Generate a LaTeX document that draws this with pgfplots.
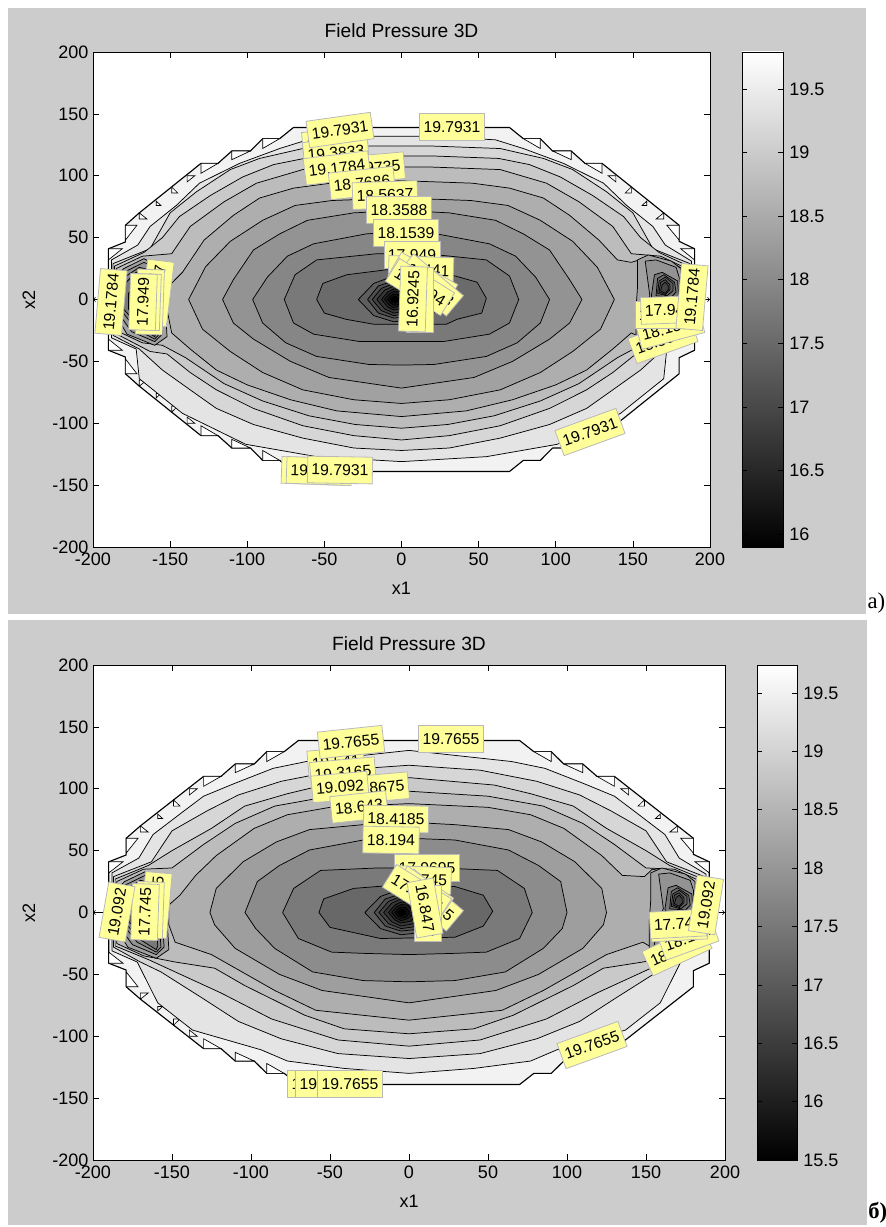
\documentclass[border=0pt]{standalone}
\usepackage{fontspec}
\usepackage{pgfplots}
\pgfplotsset{compat=1.18}
\setmainfont{Liberation Sans}
\newfontfamily\serifx{Liberation Serif}
\newcommand\tickf{\fontsize{13.5}{15}\selectfont}
\definecolor{figgray}{RGB}{204,204,204}
\definecolor{labfill}{RGB}{255,255,153}
\definecolor{labedge}{RGB}{185,185,185}
\tikzset{lab/.style={fill=labfill,draw=labedge,line width=.6pt,inner xsep=3pt,inner ysep=0pt,minimum height=20pt,font=\fontsize{11.8}{13}\selectfont}}
\newcommand\ring[2]{\addplot[draw=black,line width=.55pt,line join=round,fill={rgb,255:red,#1;green,#1;blue,#1}] coordinates {#2} -- cycle;}
\newcommand\tri[1]{\addplot[draw=black,line width=.5pt,fill=white] coordinates {#1} -- cycle;}
\newcommand\la[4]{\node[lab,rotate=#3] at (axis cs:{(#1-401.5)/1.5425},{(299.5-#2)/1.2375}) {#4};}
\newcommand\lb[4]{\node[lab,rotate=#3] at (axis cs:{(#1-409)/1.58},{(912.5-#2)/1.2375}) {#4};}
\newcommand\Bound{%
\addplot[draw=black,line width=.85pt,line join=round,fill={rgb,255:red,242;green,242;blue,242}] coordinates {(190,41)(180,47)(180,60)(170,70)(130,110)(119,110)(110,120)(98,120)(90,130)(79,130)(70,139)(-70,139)(-79,130)(-90,130)(-98,120)(-110,120)(-119,110)(-130,110)(-170,70)(-179,60)(-179,46.5)(-190,41)(-190,-41)(-179,-46.5)(-179,-60)(-170,-70)(-130,-110)(-119,-110)(-110,-120)(-98,-120)(-90,-130)(-79,-130)(-70,-139)(70,-139)(79,-130)(90,-130)(98,-120)(110,-120)(119,-110)(130,-110)(170,-70)(180,-60)(180,-47)(190,-41)} -- cycle;
\tri{(-130,110)(-119,110)(-130,102)}\tri{(-110,120)(-98,120)(-110,113)}\tri{(-90,130)(-79,130)(-90,122)}\tri{(-139,100)(-134,100)(-139,95)}\tri{(-149,91)(-145,86)(-149,86)}\tri{(-159,79.5)(-156,76)(-159,76)}\tri{(-170,70)(-165,65)(-170,65)}\tri{(-179,60)(-171.5,60)(-179,48)}\tri{(-190,41)(-181,41)(-190,32)}%
\tri{(130,110)(119,110)(130,102)}\tri{(110,120)(98,120)(110,113)}\tri{(90,130)(79,130)(90,122)}\tri{(139,100)(134,100)(139,95)}\tri{(149,91)(145,86)(149,86)}\tri{(159,79.5)(156,76)(159,76)}\tri{(170,70)(165,65)(170,65)}\tri{(180,60)(172,60)(180,48)}\tri{(190,41)(181,41)(190,32)}%
\tri{(-130,-110)(-119,-110)(-130,-102)}\tri{(-110,-120)(-98,-120)(-110,-113)}\tri{(-90,-130)(-79,-130)(-90,-122)}\tri{(-139,-100)(-134,-100)(-139,-95)}\tri{(-149,-91)(-145,-86)(-149,-86)}\tri{(-159,-79.5)(-156,-76)(-159,-76)}\tri{(-170,-70)(-165,-65)(-170,-65)}\tri{(-179,-60)(-171.5,-60)(-179,-48)}\tri{(-190,-41)(-181,-41)(-190,-32)}%
}
\newcommand\Pits{%
\ring{161}{(153,32)(160,36)(175,31)(181,25)(181,-5)(178,-25)(160,-36)(152,-30)(152,-8)(153,10)}
\ring{147}{(158,31)(165,32)(178,26)(180,18)(180,-20)(175,-27)(160,-33)(155,-28)(158,-5)(161,3)}
\ring{121}{(162,3)(164,20)(169,22)(179,15)(179.5,5)(178,-15)(165,-15)}
\ring{107}{(165,3)(166,17)(170,20)(177,14)(178,6)(175,2)}
\ring{94}{(166,5)(167,15)(171,18)(176,13)(176,7)(172,3)}
\ring{80}{(167,6)(168,14)(171,16)(174,12)(174,8)(171,4)}
\ring{67}{(168,7)(169,12)(171,14)(173,11)(173,8)(171,5)}
\ring{161}{(-156,26)(-167,33)(-180,25)(-184,20)(-184,-15)(-178,-28)(-160,-37)(-152,-30)(-153,-8)}
\ring{147}{(-158,25)(-167,30)(-180,22)(-183,15)(-183,-12)(-175,-26)(-160,-34)(-155,-28)(-156,-8)}
\ring{134}{(-160,23)(-170,26)(-181,17)(-181,-10)(-172,-24)(-160,-32)(-157,-28)(-158,-8)}
\ring{121}{(-162,20)(-172,22)(-180,12)(-180,-8)(-170,-22)(-160,-30)(-159,-27)(-160,-8)}
\ring{94}{(-165,10)(-172,12)(-177,5)(-177,-8)(-170,-16)(-163,-22)(-162,-8)}
\ring{67}{(-168,2)(-172,4)(-174,-2)(-173,-8)(-169,-12)(-166,-8)}
}
\newcommand\Tight{%
\ring{94}{(-28,0)(-18,13)(-5,19)(15,17)(28,6)(28,-6)(15,-15)(-5,-18)(-18,-13)}
\ring{80}{(-22,0)(-15,11)(-5,15)(10,14)(20,5)(20,-5)(10,-13)(-5,-15)(-15,-11)}
\ring{67}{(-19,0)(-13,9)(-5,13)(6,12)(13,4)(13,-4)(6,-11)(-5,-13)(-13,-9)}
\ring{54}{(-16,0)(-11,7.5)(-5,11)(3,10)(8,3)(8,-3)(3,-9)(-5,-11)(-11,-7.5)}
\ring{40}{(-13,0)(-9,6)(-5,8.5)(1,8)(5,2)(5,-2)(1,-7)(-5,-8.5)(-9,-6)}
\ring{27}{(-11,0)(-8,4.5)(-5,6.5)(-1,6)(2,2)(2,-2)(-1,-5)(-5,-6.5)(-8,-4.5)}
\ring{13}{(-9,0)(-7,3)(-5,4.5)(-2,4)(0,1)(0,-1)(-2,-4)(-5,-4.5)(-7,-3)}
\ring{0}{(-7,0)(-6,2)(-4,2.5)(-2,1)(-2,-1)(-4,-2.5)(-6,-2)}
}
\newcommand\Arrows{%
\addplot[->,black,line width=.5pt] coordinates {(-192,0)(-200,0)};
\addplot[->,black,line width=.5pt] coordinates {(192,0)(200,0)};
}
\pgfplotsset{
 mainax/.style={scale only axis,height=371.25pt,anchor=south west,xmin=-200,xmax=200,ymin=-200,ymax=200,
  xtick={-200,-150,-100,-50,0,50,100,150,200},ytick={-200,-150,-100,-50,0,50,100,150,200},
  xticklabels={-200,-150,-100,-50,0,50,100,150,200},yticklabels={-200,-150,-100,-50,0,50,100,150,200},
  tick align=inside,major tick length=4.5pt,tick style={black,line width=.5pt},axis line style={black,line width=.6pt},
  axis background/.style={fill=white},
  tick label style={font=\tickf},label style={font=\tickf},
  xtick pos=both,ytick pos=both,xticklabel pos=bottom,yticklabel pos=left,
  xticklabel style={yshift=-1pt},yticklabel style={xshift=0pt},
  title style={font=\fontsize{14.4}{16}\selectfont,at={(0.5,1)},anchor=south,yshift=1.5pt},
  xlabel={x1},ylabel={x2},xlabel style={yshift=-5pt},ylabel style={yshift=6pt},
  clip=false,title={Field Pressure 3D}},
 cbar/.style={scale only axis,height=371.25pt,anchor=south west,xmin=0,xmax=1,xtick=\empty,
  tick align=inside,major tick length=3.5pt,tick style={black,line width=.5pt},axis line style={black,line width=.6pt},
  ytick pos=both,yticklabel pos=right,tick label style={font=\tickf},yticklabel style={xshift=1.2pt},axis on top,clip=true}
}
\begin{document}
\begin{tikzpicture}
\path[use as bounding box] (0,0) rectangle (663.75pt,-920.25pt);
\fill[white] (0,0) rectangle (663.75pt,-920.25pt);
\fill[figgray] (6pt,-6pt) rectangle (649.5pt,-460.5pt);
\fill[figgray] (6pt,-465pt) rectangle (650.25pt,-918.75pt);
\node[anchor=west,inner sep=0pt,font=\serifx\fontsize{17}{19}\selectfont] at (650.5pt,-452.5pt) {a)};
\node[anchor=west,inner sep=0pt,font=\serifx\bfseries\fontsize{17}{19}\selectfont] at (651pt,-909.5pt) {б)};
% panel a
\begin{axis}[mainax,at={(69.75pt,-410.25pt)},width=462.75pt]
\Bound
\ring{228}{(188,0)(188,31)(171,44)(163,59)(146,76)(131,94)(105,110)(79,122)(61,129)(20,132)(-20,132)(-61,129)(-79,122)(-105,110)(-131,94)(-146,76)(-163,59)(-171,44)(-188,32)(-188,0)(-188,-31)(-172,-40)(-170,-64)(-142,-92)(-101,-117)(-55,-127)(0,-131)(55,-127)(101,-117)(142,-92)(170,-64)(172,-40)(188,-28)}
\ring{214}{(187,0)(187,29)(163,41)(150,70)(133,87)(111,105)(92,114)(64,122)(20,124)(-20,124)(-64,122)(-92,114)(-111,105)(-133,87)(-150,70)(-163,41)(-187,29)(-187,0)(-187,-29)(-170,-40)(-155,-57)(-137,-73)(-120,-88)(-96,-101)(-64,-112)(-31,-120)(0,-122)(31,-120)(64,-112)(96,-101)(120,-88)(137,-73)(155,-57)(170,-40)(187,-28)}
\ring{201}{(186,0)(186,27)(167,38)(155,50)(144,67)(124,84)(103,99)(83,109)(63,114)(20,116)(-20,116)(-63,114)(-83,109)(-103,99)(-124,84)(-144,67)(-155,50)(-167,38)(-186,27)(-186,0)(-186,-27)(-163,-42)(-152,-44)(-137,-59)(-120,-73)(-96,-88)(-64,-102)(-31,-110)(0,-113.5)(31,-110)(64,-102)(96,-88)(120,-73)(137,-59)(152,-44)(163,-42)(186,-27)}
\ring{188}{(185,0)(185,25)(168,35)(149,37)(137,59)(115,79)(94,94)(64,105)(20,107)(-20,107)(-64,105)(-94,94)(-115,79)(-137,59)(-149,37)(-168,35)(-185,25)(-185,0)(-185,-25)(-168,-35)(-155,-37)(-140,-47)(-115,-68)(-90,-82)(-60,-94)(-30,-101)(0,-104)(30,-101)(60,-94)(90,-82)(115,-68)(140,-47)(155,-37)(168,-35)(185,-25)}
\ring{174}{(182,0)(182,25)(172,32)(159,34)(149,30)(140,32)(128,48)(109,68)(92,82)(70,90)(46,94)(0,96)(-46,94)(-70,90)(-92,82)(-109,68)(-128,48)(-142,22)(-150,12)(-152,-8)(-149,-27)(-137,-40)(-120,-57)(-100,-69)(-72,-81)(-42,-90)(0,-94.6)(42,-90)(72,-81)(100,-69)(120,-57)(137,-40)(149,-27)(159,-33)(172,-32)(182,-25)}
\Pits
\ring{161}{(138,0)(127,26)(111,47)(90,64)(69,76)(45,80)(0,82)(-45,80)(-69,76)(-90,64)(-111,47)(-127,26.5)(-138,0)(-129,-24)(-111,-42)(-90,-59)(-64,-73)(-31,-81)(0,-84)(31,-81)(64,-73)(90,-59)(111,-42)(129,-24)}
\ring{147}{(117,0)(109,16)(96,40)(79,53)(61,64)(31,70)(0,72)(-31,70)(-61,64)(-79,53)(-96,40)(-109,16)(-116,0)(-109,-19)(-96,-32)(-72,-50)(-47,-63)(0,-71.6)(47,-63)(72,-50)(96,-32)(109,-19)}
\ring{134}{(96,0)(87,18)(74,35)(57,45)(23,53)(0,55)(-23,53)(-57,45)(-74,35)(-87,18)(-96.5,0)(-90,-19)(-75,-35)(-55,-46)(-21,-52.5)(0,-53)(21,-52.5)(55,-46)(75,-35)(90,-19)}
\ring{121}{(76,0)(70,19)(55,32)(16,37)(-16,37)(-55,32)(-69,20)(-76,0)(-70,-19)(-57,-28)(-27,-34)(0,-34)(27,-34)(57,-28)(70,-19)}
\ring{107}{(55,1)(49,14)(29,21)(-10,24)(-35.5,20)(-51,13)(-55,0)(-50,-11)(-36,-16)(-18,-20)(29,-20)(36,-16)(52,-11)}
\Tight
\Arrows
\la{335}{143}{5}{19.5882}
\la{336}{153}{5}{19.3833}
\la{372}{168}{5}{18.9735}
\la{337}{168}{7}{19.1784}
\la{362}{183}{6}{18.7686}
\la{385}{195}{2}{18.5637}
\la{399}{210}{0}{18.3588}
\la{406}{233}{0}{18.1539}
\la{412}{255}{0}{17.949}
\la{421}{270}{-2}{17.7441}
\la{423}{280}{-30}{17.5392}
\la{430}{285}{-40}{17.3343}
\la{420}{287}{-32}{17.1294}
\la{420}{300}{90}{16.9245}
\la{413}{299}{88}{16.9245}
\la{340}{130}{8}{19.7931}
\la{452}{127}{0}{19.7931}
\la{590}{432}{20}{19.7931}
\la{314}{471}{-2}{19.7931}
\la{319}{471}{-2}{19.7931}
\la{340}{470}{-1}{19.7931}
\la{157}{293}{83}{18.5637}
\la{150}{302}{88}{18.1539}
\la{147}{302}{88}{17.949}
\la{143}{302}{88}{17.949}
\la{111}{302}{85}{19.1784}
\la{663}{340}{20}{18.3588}
\la{670}{328}{15}{18.1539}
\la{663}{315}{0}{17.949}
\la{669}{310}{2}{17.949}
\la{692}{297}{85}{19.1784}
\end{axis}
\begin{axis}[cbar,at={(556.5pt,-410.25pt)},width=30.75pt,ymin=15.9,ymax=19.79,
 ytick={16,16.5,17,17.5,18,18.5,19,19.5},yticklabels={16,16.5,17,17.5,18,18.5,19,19.5}]
\fill[bottom color=black,top color=white,draw=none] (axis cs:0,15.9) rectangle (axis cs:1,19.79);
\end{axis}
% panel b
\begin{axis}[mainax,at={(69.75pt,-870pt)},width=474pt]
\Bound
\ring{228}{(188,0)(188,31)(171,44)(162,63)(143,81.5)(130,94)(111,104)(86,116.5)(65,122)(0,131)(-65,122)(-86,116.5)(-111,104)(-130,94)(-143,81.5)(-162,63)(-171,44)(-188,32)(-188,0)(-188,-31)(-172,-40)(-159,-73)(-137,-95)(-93.5,-111)(-77,-120)(-41,-126)(0,-130)(41,-126)(77,-120)(93.5,-111)(137,-95)(159,-73)(172,-40)(188,-28)}
\ring{214}{(187,0)(187,29)(163,41)(150,66)(128,82)(108,95)(81,106)(45,115)(0,119)(-45,115)(-81,106)(-108,95)(-128,82)(-150,66)(-163,41)(-187,29)(-187,0)(-187,-28)(-170,-40)(-157,-48)(-131,-69)(-108,-88)(-81,-102)(-45,-114)(0,-118)(45,-114)(81,-102)(108,-88)(131,-69)(157,-48)(170,-40)(187,-28)}
\ring{201}{(186,0)(186,27)(165,38)(150,50)(125,68)(104,86)(77,96)(54,103)(0,109)(-54,103)(-77,96)(-104,86)(-125,68)(-150,50)(-165,38)(-186,27)(-186,0)(-186,-27)(-165,-38)(-148,-48)(-119,-65)(-87,-86)(-45,-103)(0,-108)(45,-103)(87,-86)(119,-65)(148,-48)(165,-38)(186,-27)}
\ring{188}{(185,0)(185,25)(168,35)(150,36)(130,55)(110,72)(85,86)(50,94)(0,98)(-50,94)(-85,86)(-110,72)(-130,55)(-150,36)(-168,35)(-185,25)(-185,0)(-185,-25)(-168,-35)(-148,-40)(-123,-45)(-104,-59)(-66,-83)(-41,-94)(0,-98)(41,-94)(66,-83)(104,-59)(123,-45)(148,-40)(168,-35)(185,-25)}
\ring{174}{(182.5,0)(181,24)(170,31)(154,35)(149,29)(135,30)(122,46)(98,68)(77,79)(50,85)(0,88)(-50,85)(-77,79)(-98,68)(-122,46)(-135,30)(-145,14)(-152,6)(-152,-10)(-148,-24)(-125,-34)(-85,-63)(-59,-79)(0,-87)(59,-79)(85,-63)(125,-34)(148,-24)(156,-30)(170,-28)(181,-24)}
\Pits
\ring{158}{(125,0)(122,19.5)(105,41)(84,57)(63,67)(29,71)(0,73)(-29,71)(-63,67)(-84,57)(-105,41)(-122,19.5)(-126,0)(-123,-10)(-110,-29)(-82,-50)(-55,-63)(0,-73)(55,-63)(82,-50)(110,-29)(123,-10)}
\ring{140}{(100,0)(96,25)(82,38)(63,50.5)(29,58.6)(0,60)(-29,58.6)(-63,50.5)(-82,38)(-96,25)(-103.8,0)(-97,-13)(-85,-29)(-61,-48)(-29,-55)(0,-56)(29,-55)(61,-48)(85,-29)(97,-13)}
\ring{122}{(78,0)(73,19.5)(56,34)(20,36)(-20,36)(-56,34)(-73,19.5)(-80,0)(-70,-21)(-49,-32)(-29,-33)(0,-34)(29,-33)(49,-32)(70,-21)}
\ring{104}{(53,1)(47,14)(29,21)(-10,22)(-35,19.5)(-54,11)(-57,0)(-50,-12)(-18,-21)(29,-20)(47,-11)}
\Tight
\Arrows
\lb{336}{762}{5}{19.541}
\lb{343}{773}{5}{19.3165}
\lb{376}{788}{5}{18.8675}
\lb{340}{787}{5}{19.092}
\lb{359}{807}{6}{18.643}
\lb{396}{819}{-1}{18.4185}
\lb{391}{840}{-1}{18.194}
\lb{427}{868}{0}{17.9695}
\lb{423}{880}{-2}{17.745}
\lb{430}{900}{-40}{17.0715}
\lb{423}{893}{-35}{17.296}
\lb{417}{893}{-32}{17.5205}
\lb{428}{913}{-90}{16.847}
\lb{425}{908}{-80}{16.847}
\lb{351}{742}{6}{19.7655}
\lb{451}{739}{0}{19.7655}
\lb{592}{1045}{20}{19.7655}
\lb{320}{1084}{0}{19.7655}
\lb{328}{1084}{0}{19.7655}
\lb{350}{1084}{0}{19.7655}
\lb{156}{905}{85}{18.4185}
\lb{150}{910}{88}{18.194}
\lb{145}{912}{88}{17.745}
\lb{117}{912}{80}{19.092}
\lb{677}{950}{25}{18.4185}
\lb{688}{938}{20}{18.194}
\lb{679}{927}{3}{17.745}
\lb{678}{924}{3}{17.745}
\lb{706}{905}{81}{19.092}
\end{axis}
\begin{axis}[cbar,at={(567.75pt,-870pt)},width=30pt,ymin=15.5,ymax=19.74,
 ytick={15.5,16,16.5,17,17.5,18,18.5,19,19.5},yticklabels={15.5,16,16.5,17,17.5,18,18.5,19,19.5}]
\fill[bottom color=black,top color=white,draw=none] (axis cs:0,15.5) rectangle (axis cs:1,19.74);
\end{axis}
\end{tikzpicture}
\end{document}
